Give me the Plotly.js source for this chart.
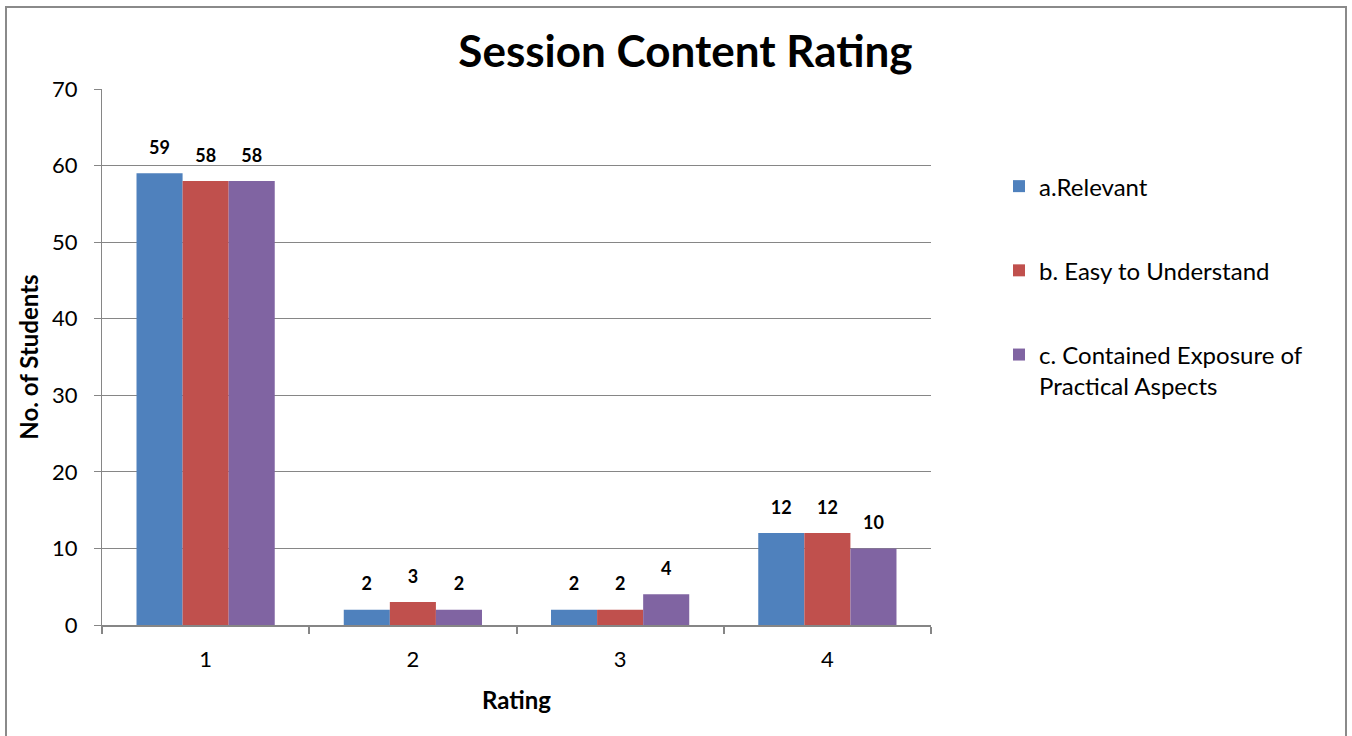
<!DOCTYPE html>
<html><head><meta charset="utf-8">
<script src="https://cdn.plot.ly/plotly-3.0.1.min.js"></script>
<style>
html,body{margin:0;padding:0;background:#fff;}
#chart{width:1352px;height:736px;position:absolute;left:0;top:0;}
#frame{position:absolute;left:5px;top:6px;width:1338px;height:740px;border:2px solid #8a8a8a;pointer-events:none;}
</style></head>
<body>
<div id="chart"></div>
<div id="frame"></div>
<script>
const categories = ["1", "2", "3", "4"];
const seriesNames = ["a.Relevant", "b. Easy to Understand", "c. Contained Exposure of<br>Practical Aspects"];
const relevant = [59, 2, 2, 12];
const easyToUnderstand = [58, 3, 2, 12];
const practicalAspects = [58, 2, 4, 10];
const yTicks = [0, 10, 20, 30, 40, 50, 60, 70];

const colors = ["#4F81BD", "#C0504D", "#8064A2"];
const FONT = "Lato, 'Open Sans', sans-serif";
const seriesValues = [relevant, easyToUnderstand, practicalAspects];

const traces = seriesValues.map((vals, i) => ({
  type: "bar",
  name: seriesNames[i],
  x: categories,
  y: vals,
  marker: {color: colors[i], line: {width: 0}},
  texttemplate: "<span style='font-size:18px'><b>%{y}</b></span><br> ",
  textposition: "outside",
  constraintext: "none",
  cliponaxis: false,
  textfont: {family: FONT, size: 11, color: "#000"},
  legendgroup: "g" + i,
  hoverinfo: "none"
}));

const layout = {
  width: 1352, height: 736,
  margin: {l: 102, r: 421, t: 89, b: 111},
  paper_bgcolor: "#fff", plot_bgcolor: "#fff",
  barmode: "group", bargap: 0.333, bargroupgap: 0,
  title: {text: "<b>Session Content Rating</b>", font: {family: FONT, size: 44, color: "#000"},
          x: 0.507, xanchor: "center", y: 0.93, yanchor: "middle"},
  xaxis: {
    type: "category", tickvals: categories, ticktext: categories,
    showline: true, linecolor: "#868686", linewidth: 2,
    ticks: "outside", tickson: "boundaries", ticklen: 7, tickcolor: "#868686", tickwidth: 2,
    showgrid: false, zeroline: false, ticklabelstandoff: 14,
    tickfont: {family: FONT, size: 22, color: "#000"},
    title: {text: "<b>Rating</b>", font: {family: FONT, size: 24, color: "#000"}, standoff: 21}
  },
  yaxis: {
    range: [0, 70], tickvals: yTicks, ticktext: yTicks.map(String),
    showline: true, linecolor: "#868686", linewidth: 1,
    ticks: "outside", ticklen: 7, tickcolor: "#868686",
    showgrid: true, gridcolor: "#868686", gridwidth: 1, zeroline: false,
    ticklabelstandoff: 12,
    tickfont: {family: FONT, size: 22, color: "#000"},
    title: {text: "<b>No. of Students</b>", font: {family: FONT, size: 24, color: "#000"}, standoff: 6}
  },
  showlegend: true,
  legend: {
    x: 1.082, xanchor: "left", y: 0.86, yanchor: "top",
    font: {family: FONT, size: 24, color: "#000"},
    traceorder: "grouped", tracegroupgap: 50, valign: "top",
    itemwidth: 30, bgcolor: "rgba(0,0,0,0)"
  }
};

Plotly.newPlot("chart", traces, layout, {displayModeBar: false, staticPlot: true});
</script>
</body></html>
